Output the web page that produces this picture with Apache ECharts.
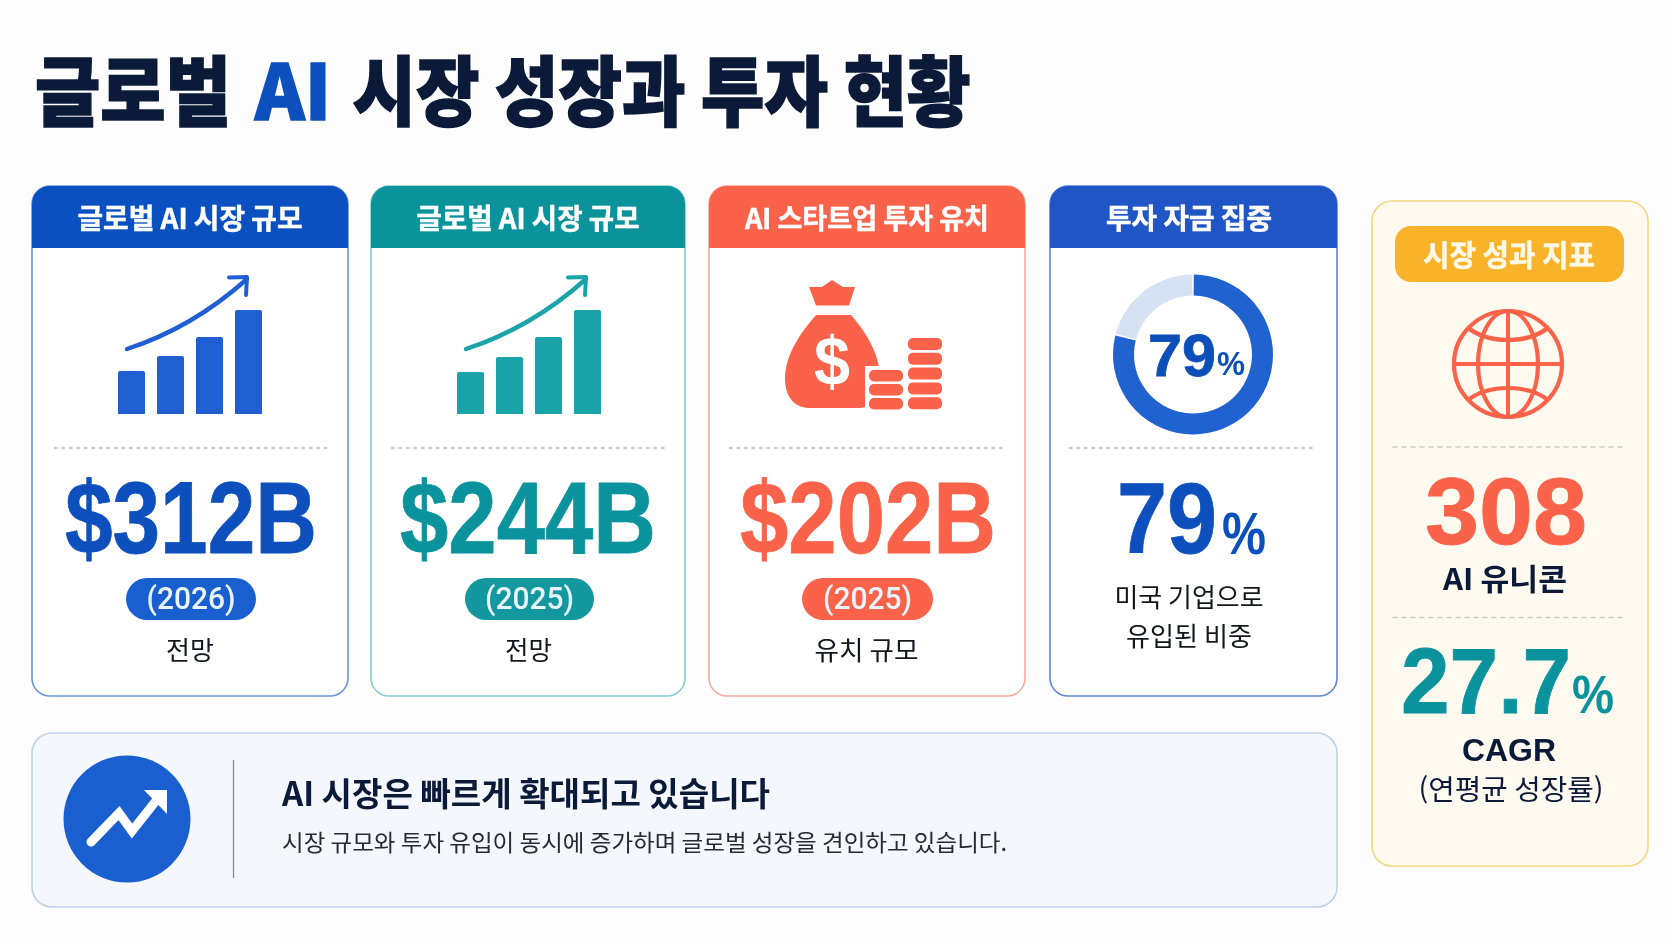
<!DOCTYPE html>
<html lang="ko">
<head>
<meta charset="utf-8">
<title>글로벌 AI 시장 성장과 투자 현황</title>
<script src="https://cdn.jsdelivr.net/npm/echarts@6/dist/echarts.min.js"></script>
<style>
    html, body { margin: 0; padding: 0; background: #fdfdfe; }
    #chart { width: 1672px; height: 941px; }
</style>
</head>
<body>
<div id="chart"></div>
<script>
// ---------- 데이터 ----------
const cardTitles = ['글로벌 AI 시장 규모', '글로벌 AI 시장 규모', 'AI 스타트업 투자 유치', '투자 자금 집중'];
const cardValues = ['$312B', '$244B', '$202B'];
const cardYears = ['(2026)', '(2025)', '(2025)'];
const cardNotes = ['전망', '전망', '유치 규모'];
const barsBlue = [43, 58, 77, 104];
const barsTeal = [42, 57, 77, 104];
const barCategories = ['1', '2', '3', '4'];
const donutValues = [79, 21];
const sideTitle = '시장 성과 지표';
const unicorns = '308';
const cagr = '27.7';

// ---------- 색상 / 레이아웃 ----------
const NAVY = '#0b1a38', BLUE = '#0d50bd', BLUE2 = '#1f5fd2', TEAL = '#0a939c', TEAL2 = '#1aa3a9', CORAL = '#fa6249';
const SANS = '"Noto Sans CJK KR"', LATIN = '"Liberation Sans"', YEAR = 'Roboto';
const cards = [
    { l: 32, r: 348, head: '#0a50c0', line: '#6a93d8', main: BLUE, pill: '#1a5fd0', divL: 55, divR: 326, textW: 225, valL: 65, valR: 317, pillL: 126, pillR: 256, yearW: 89, noteW: 48 },
    { l: 371, r: 685, head: '#0b939c', line: '#86cdd0', main: TEAL, pill: '#13989f', divL: 392, divR: 664, textW: 223, valL: 400, valR: 656, pillL: 465, pillR: 594, yearW: 89, noteW: 47 },
    { l: 709, r: 1025, head: '#fa6249', line: '#f6a99c', main: CORAL, pill: '#fa6249', divL: 730, divR: 1004, textW: 244, valL: 740, valR: 996, pillL: 802, pillR: 933, yearW: 89, noteW: 104 },
    { l: 1050, r: 1337, head: '#1f55c5', line: '#5b86d4', main: BLUE, divL: 1070, divR: 1317, textW: 166, textX: 1189 }
];

const measureCtx = document.createElement('canvas').getContext('2d');

// 텍스트: 중심 좌표와 목표 폭에 맞춰 가로 배율 조정 (thick: 획 두께 보정)
function txt(str, cx, cy, size, color, weight, width, family, thick) {
    const font = `${weight} ${size}px ${family || SANS}`;
    measureCtx.font = font;
    const sx = width ? width / measureCtx.measureText(str).width : 1;
    const style = { text: str, x: 0, y: 0, font: font, fill: color, align: 'center', verticalAlign: 'middle' };
    if (thick) { style.stroke = color; style.lineWidth = thick; }
    return { type: 'text', x: cx, y: cy, scaleX: sx, z: 5, silent: true, style: style };
}
function rect(x, y, w, h, r, fill, stroke, lw, z) {
    return { type: 'rect', z: z || 1, silent: true, shape: { x, y, width: w, height: h, r }, style: { fill: fill || 'none', stroke: stroke || 'none', lineWidth: lw || 0 } };
}
function line(x1, y1, x2, y2, color, lw, dash) {
    return { type: 'line', z: 2, silent: true, shape: { x1, y1, x2, y2 }, style: { stroke: color, lineWidth: lw, lineDash: dash || null, lineCap: dash ? 'round' : 'butt', fill: 'none' } };
}
function growthArrow(dx, color) {
    return [
        { type: 'bezierCurve', z: 3, silent: true, shape: { x1: 127 + dx, y1: 349, cpx1: 167 + dx, cpy1: 336, cpx2: 210 + dx, cpy2: 312, x2: 247 + dx, y2: 279 }, style: { stroke: color, lineWidth: 4.4, lineCap: 'round', fill: 'none' } },
        { type: 'polyline', z: 3, silent: true, shape: { points: [[229 + dx, 277.5], [247 + dx, 277], [246 + dx, 295]] }, style: { stroke: color, lineWidth: 4, lineCap: 'round', lineJoin: 'round', fill: 'none' } }
    ];
}

const g = [];

// 제목
g.push(txt('글로벌', 133, 91, 76, NAVY, 900, 196, SANS, 1.6));
g.push(txt('AI', 293, 91, 76, BLUE, 900, 76, SANS, 1.6));
g.push(txt('시장 성장과 투자 현황', 661.5, 91, 76, NAVY, 900, 618, SANS, 1.6));

// 카드 네 개
cards.forEach((c, i) => {
    const cx = (c.l + c.r) / 2;
    g.push(rect(c.l, 186, c.r - c.l, 510, 18, '#ffffff', c.line, 1.6));
    g.push(rect(c.l, 186, c.r - c.l, 62, [18, 18, 0, 0], c.head));
    g.push(txt(cardTitles[i], c.textX || cx, 218, 28, '#ffffff', 700, c.textW, SANS, 0.5));
    g.push(line(c.divL, 448, c.divR, 448, '#c6cad0', 2.4, [1.5, 6]));
    if (i < 3) {
        const vc = (c.valL + c.valR) / 2, pc = (c.pillL + c.pillR) / 2;
        g.push(txt(cardValues[i], vc, 525, 102, c.main, 700, c.valR - c.valL, LATIN, 0.8));
        g.push(rect(c.pillL, 578, c.pillR - c.pillL, 42, 21, c.pill));
        g.push(txt(cardYears[i], pc, 601, 32, '#eaf5fb', 500, c.yearW, YEAR));
        g.push(txt(cardNotes[i], pc - 1, 650, 26, '#14161c', 400, c.noteW));
    }
});
g.push(...growthArrow(0, BLUE2), ...growthArrow(339, TEAL2));

// 돈주머니 아이콘
g.push(txt('$', 832, 366, 68, '#ffffff', 700, 36, LATIN));
g.push(rect(865, 366, 82, 48, 0, '#ffffff', null, 0, 3));
[0, 1, 2].forEach(k => g.push(rect(869, 370 + k * 14, 34, 11.5, 5, CORAL, null, 0, 4)));
[0, 1, 2, 3, 4].forEach(k => g.push(rect(908, 338 + k * 14.8, 34, 12, 5, CORAL, null, 0, 4)));

// 도넛 가운데 글자, 79%
g.push(txt('79', 1182, 359, 60, '#0d4fb8', 700, 68, LATIN, 0.8));
g.push(txt('%', 1231, 366, 34, '#0d4fb8', 700, 28, LATIN));
g.push(txt('79', 1167, 525, 100, BLUE, 700, 100, LATIN, 0.8));
g.push(txt('%', 1244, 537, 60, BLUE, 700, 44, LATIN));
g.push(txt('미국 기업으로', 1189, 597, 26, '#14161c', 400, 149));
g.push(txt('유입된 비중', 1189, 636, 26, '#14161c', 400, 126));

// 하단 안내 박스
g.push(rect(32, 733, 1305, 174, 20, '#f4f7fc', '#bfd2ea', 1.6));
g.push({ type: 'circle', z: 2, silent: true, shape: { cx: 127, cy: 819, r: 63.5 }, style: { fill: '#1a5fd0' } });
g.push({ type: 'polyline', z: 3, silent: true, shape: { points: [[91, 842], [119, 813], [132, 831], [159, 797]] }, style: { stroke: '#ffffff', lineWidth: 9, lineCap: 'round', lineJoin: 'miter', fill: 'none' } });
g.push({ type: 'polygon', z: 3, silent: true, shape: { points: [[144, 790], [167, 790], [167, 814]] }, style: { fill: '#ffffff' } });
g.push(line(233.5, 760, 233.5, 878, '#8d929a', 1.4));
g.push(txt('AI 시장은 빠르게 확대되고 있습니다', 526, 793, 33, NAVY, 700, 488));
g.push(txt('시장 규모와 투자 유입이 동시에 증가하며 글로벌 성장을 견인하고 있습니다.', 644.5, 842, 23, '#252a33', 400, 725));

// 오른쪽 패널
g.push(rect(1372, 201, 276, 665, 20, '#fefaef', '#f3d77f', 1.6));
g.push(rect(1395, 226, 229, 56, 16, '#f9b32b'));
g.push(txt(sideTitle, 1509, 255, 30, '#fff8e6', 700, 172, SANS, 0.5));
const globeStroke = { stroke: CORAL, lineWidth: 4.2, fill: 'none' };
g.push({ type: 'ellipse', z: 3, silent: true, shape: { cx: 1508, cy: 364, rx: 54, ry: 53 }, style: globeStroke });
g.push({ type: 'ellipse', z: 3, silent: true, shape: { cx: 1508, cy: 364, rx: 30, ry: 53 }, style: globeStroke });
g.push(line(1508, 311, 1508, 417, CORAL, 4));
g.push(line(1454, 364, 1562, 364, CORAL, 4));
g.push({ type: 'bezierCurve', z: 3, silent: true, shape: { x1: 1468, y1: 328, cpx1: 1489, cpy1: 344, cpx2: 1527, cpy2: 344, x2: 1548, y2: 328 }, style: globeStroke });
g.push({ type: 'bezierCurve', z: 3, silent: true, shape: { x1: 1468, y1: 400, cpx1: 1489, cpy1: 384, cpx2: 1527, cpy2: 384, x2: 1548, y2: 400 }, style: globeStroke });
g.push(line(1393, 447, 1625, 447, '#ccccc6', 1.5, [4, 5]));
g.push(line(1393, 617.5, 1625, 617.5, '#ccccc6', 1.5, [4, 5]));
g.push(txt(unicorns, 1506, 518, 95, CORAL, 700, 162, LATIN, 0.8));
g.push(txt('AI 유니콘', 1505, 579, 30, NAVY, 700, 124));
g.push(txt(cagr, 1486, 688, 92, TEAL, 700, 170, LATIN, 0.8));
g.push(txt('%', 1593, 698, 54, TEAL, 700, 42, LATIN));
g.push(txt('CAGR', 1509, 752, 32, NAVY, 700, 94, LATIN));
g.push(txt('(연평균 성장률)', 1511, 789, 28, NAVY, 400, 185));

// 막대 아이콘 그리드
const barAxis = (idx, left) => ({ left: left, top: 310, width: 156, height: 104 });
const hiddenCat = i => ({ type: 'category', gridIndex: i, data: barCategories, show: false });
const hiddenVal = i => ({ type: 'value', gridIndex: i, min: 0, max: 104, show: false });
const barSeries = (i, vals, color) => ({
    type: 'bar', xAxisIndex: i, yAxisIndex: i, data: vals, barWidth: 27, silent: true,
    itemStyle: { color: color, borderRadius: [2, 2, 0, 0] }
});

// 돈주머니 몸통과 매듭 (path 는 custom 시리즈로)
const bagBody = 'M816 315 L851 315 C866 332 880 355 880 378 C880 398 872 408 858 408 L810 408 C795 408 785 398 785 378 C785 355 801 332 816 315 Z';
const bagTie = 'M809 287 L822 287 L832 280 L843 287 L855 287 L849 305.5 L816 305.5 Z';

const option = {
    animation: false,
    backgroundColor: '#fdfdfe',
    graphic: { elements: g },
    grid: [barAxis(0, 112), barAxis(1, 451)],
    xAxis: [hiddenCat(0), hiddenCat(1)],
    yAxis: [hiddenVal(0), hiddenVal(1)],
    series: [
        barSeries(0, barsBlue, BLUE2),
        barSeries(1, barsTeal, TEAL2),
        {
            type: 'pie', center: [1193, 354.5], radius: [59, 80], startAngle: 90, padAngle: 1.2, silent: true,
            label: { show: false }, labelLine: { show: false },
            data: [
                { value: donutValues[0], itemStyle: { color: '#1f62d0' } },
                { value: donutValues[1], itemStyle: { color: '#d5e2f3' } }
            ]
        },
        {
            type: 'custom', coordinateSystem: 'none', silent: true, data: [0], z: 1,
            renderItem: () => ({
                type: 'group',
                children: [
                    { type: 'path', shape: { pathData: bagBody, x: 785, y: 315, width: 95, height: 93, layout: 'cover' }, style: { fill: CORAL } },
                    { type: 'path', shape: { pathData: bagTie, x: 809, y: 280, width: 46, height: 25.5, layout: 'cover' }, style: { fill: CORAL } }
                ]
            })
        }
    ]
};

const chart = echarts.init(document.getElementById('chart'));
chart.setOption(option);
</script>
</body>
</html>
